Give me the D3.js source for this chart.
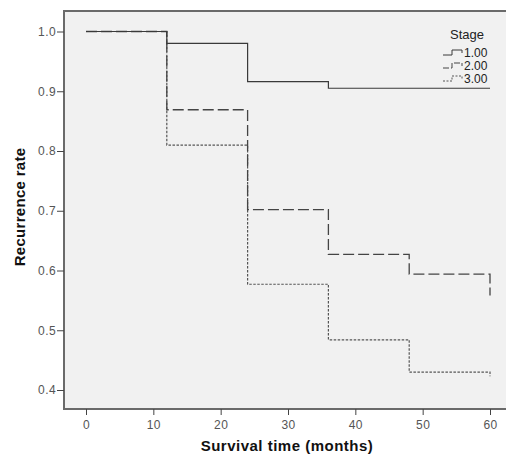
<!DOCTYPE html>
<html>
<head>
<meta charset="utf-8">
<script src="https://cdn.jsdelivr.net/npm/d3@7"></script>
<style>
  body { margin: 0; background: #fff; }
  svg { display: block; font-family: "Liberation Sans", Arial, sans-serif; }
</style>
</head>
<body>
<svg id="chart"></svg>
<script>
// data
var months = [0, 12, 24, 36, 48, 60];
var stage1 = [1.0, 0.980, 0.916, 0.905, 0.905, 0.905];
var stage2 = [1.0, 0.869, 0.702, 0.627, 0.594, 0.558];
var stage3 = [1.0, 0.810, 0.577, 0.484, 0.430, 0.423];
var stageNames = ["1.00", "2.00", "3.00"];
var xTicks = [0, 10, 20, 30, 40, 50, 60];
var yTicks = [0.4, 0.5, 0.6, 0.7, 0.8, 0.9, 1.0];

let width = 506;
let height = 456;

let svg = d3.select("#chart")
  .attr("width", width)
  .attr("height", height);

let x = d3.scaleLinear().domain([0, 60]).range([86, 490]);
let y = d3.scaleLinear().domain([0.4, 1.0]).range([390, 31.5]);

let plotLeft = 64, plotTop = 11, plotBottom = 409;

// plot background
svg.append("rect")
  .attr("x", plotLeft)
  .attr("y", plotTop)
  .attr("width", width - plotLeft)
  .attr("height", plotBottom - plotTop)
  .attr("fill", "#f1f1f1");

// frame (left, top, bottom)
svg.append("path")
  .attr("d", `M${width},${plotTop}H${plotLeft}V${plotBottom}H${width}`)
  .attr("fill", "none")
  .attr("stroke", "#6a6a6a")
  .attr("stroke-width", 2);

// axes
let xAxis = svg.append("g")
  .attr("transform", `translate(0,${plotBottom})`)
  .call(d3.axisBottom(x).tickValues(xTicks).tickSize(6).tickPadding(5).tickFormat(d3.format("d")));
xAxis.select(".domain").remove();

let yAxis = svg.append("g")
  .attr("transform", `translate(${plotLeft},0)`)
  .call(d3.axisLeft(y).tickValues(yTicks).tickSize(7).tickPadding(1).tickFormat(d3.format(".1f")));
yAxis.select(".domain").remove();

svg.selectAll(".tick line").attr("stroke", "#444").attr("stroke-width", 1);
svg.selectAll(".tick text")
  .attr("fill", "#555")
  .style("font-size", "12px")
  .style("letter-spacing", "0.4px")
  .style("font-family", "'Liberation Sans', Arial, sans-serif");

// axis titles
svg.append("text")
  .attr("x", 287)
  .attr("y", 451)
  .attr("text-anchor", "middle")
  .style("font-size", "15px")
  .style("font-weight", "bold")
  .style("letter-spacing", "0.5px")
  .attr("fill", "#111")
  .text("Survival time (months)");

svg.append("text")
  .attr("transform", "translate(25,207) rotate(-90)")
  .attr("text-anchor", "middle")
  .style("font-size", "15px")
  .style("font-weight", "bold")
  .style("letter-spacing", "0.3px")
  .attr("fill", "#111")
  .text("Recurrence rate");

// survival curves
let series = [
  { values: stage1, dash: null, color: "#3a3a3a", w: 1.2 },
  { values: stage2, dash: "11,4", color: "#444", w: 1.3 },
  { values: stage3, dash: "2.5,1.5", color: "#555", w: 1.2 }
];

let line = d3.line()
  .x(d => x(d[0]))
  .y(d => y(d[1]))
  .curve(d3.curveStepAfter);

series.slice().reverse().forEach(s => {
  svg.append("path")
    .datum(months.map((m, i) => [m, s.values[i]]))
    .attr("d", line)
    .attr("fill", "none")
    .attr("stroke", s.color)
    .attr("stroke-width", s.w)
    .attr("stroke-dasharray", s.dash);
});

// legend
let legend = svg.append("g");
legend.append("text")
  .attr("x", 467)
  .attr("y", 39)
  .attr("text-anchor", "middle")
  .style("font-size", "13px")
  .attr("fill", "#222")
  .text("Stage");

stageNames.forEach((name, i) => {
  let ly = 53 + i * 13;
  let s = series[i];
  legend.append("path")
    .attr("d", `M443,${ly + 2}H452V${ly - 3}H462V${ly}`)
    .attr("fill", "none")
    .attr("stroke", s.color)
    .attr("stroke-width", 1)
    .attr("stroke-dasharray", i === 0 ? null : (i === 1 ? "6,2" : "2,1.5"));
  legend.append("text")
    .attr("x", 464)
    .attr("y", ly + 4)
    .style("font-size", "12px")
    .attr("fill", "#222")
    .text(name);
});
</script>
</body>
</html>
